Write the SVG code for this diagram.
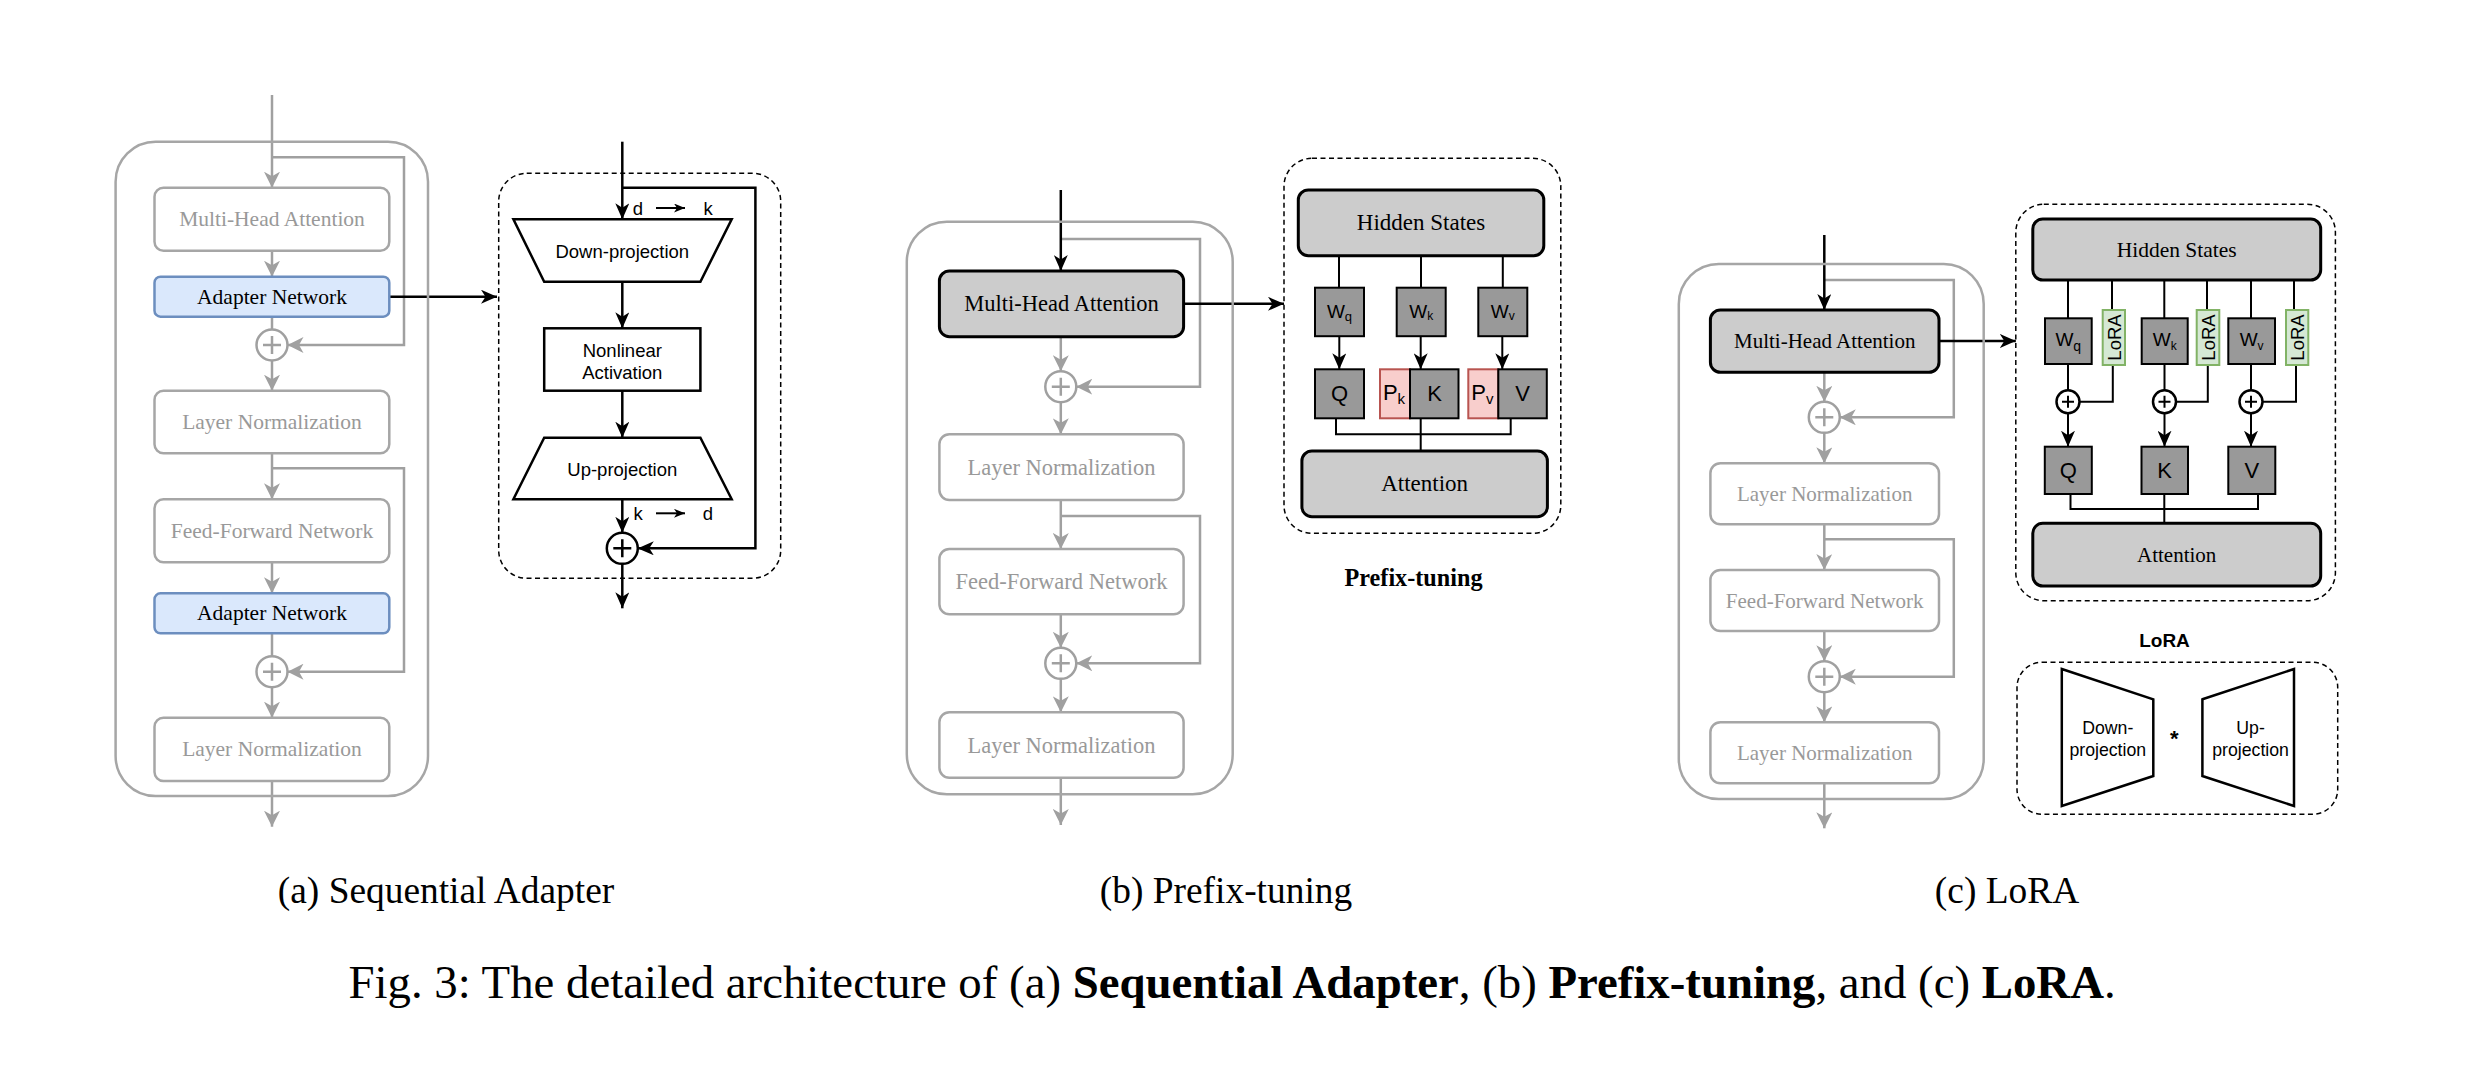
<svg xmlns="http://www.w3.org/2000/svg" width="2484" height="1070" viewBox="0 0 2484 1070">
<defs>
<marker id="mk" viewBox="0 0 16 14" refX="16" refY="7" markerWidth="16" markerHeight="14" markerUnits="userSpaceOnUse" orient="auto"><path d="M0,0 L16,7 L0,14 L4.5,7 z" fill="#000"/></marker>
<marker id="mg" viewBox="0 0 16 16" refX="16" refY="8" markerWidth="16" markerHeight="16" markerUnits="userSpaceOnUse" orient="auto"><path d="M0,0 L16,8 L0,16 L4.5,8 z" fill="#a0a0a0"/></marker>
<marker id="ms" viewBox="0 0 11 9" refX="11" refY="4.5" markerWidth="11" markerHeight="9" markerUnits="userSpaceOnUse" orient="auto"><path d="M0,0 L11,4.5 L0,9 L3,4.5 z" fill="#000"/></marker>
</defs>
<style>
.cont{fill:none;stroke:#a6a6a6;stroke-width:2.5}
.gl{fill:none;stroke:#a0a0a0;stroke-width:2.5}
.bl{fill:none;stroke:#000;stroke-width:2.5}
.tl{fill:none;stroke:#000;stroke-width:2}
.gbox{fill:#fff;stroke:#a6a6a6;stroke-width:2.5}
.abox{fill:#dae8fc;stroke:#6c8ebf;stroke-width:2.5}
.hbox{fill:#cccccc;stroke:#000;stroke-width:3}
.wbox{fill:#999999;stroke:#000;stroke-width:2}
.pbox{fill:#f8cecc;stroke:#b85450;stroke-width:2}
.lbox{fill:#d5e8d4;stroke:#82b366;stroke-width:2}
.dash{fill:none;stroke:#000;stroke-width:1.5;stroke-dasharray:5 3.5}
.shape{fill:#fff;stroke:#000;stroke-width:2.5}
.gc{fill:#fff;stroke:#a0a0a0;stroke-width:2.5}
.bc{fill:#fff;stroke:#000;stroke-width:2.5}
.st{font-family:"Liberation Serif","Times New Roman",serif;text-anchor:middle;dominant-baseline:central}
.gt{fill:#999}
.ss{font-family:"Liberation Sans",Arial,sans-serif;text-anchor:middle;dominant-baseline:central;fill:#000}
.cap{font-family:"Liberation Serif","Times New Roman",serif;fill:#000}
</style>
<rect width="2484" height="1070" fill="#fff"/>

<g id="connectors">
<!-- (a) -->
<path class="gl" d="M272,95 V187.7" marker-end="url(#mg)"/>
<path class="gl" d="M272,157.3 H404 V345 H287.5" marker-end="url(#mg)"/>
<path class="gl" d="M272,250.7 V276.7" marker-end="url(#mg)"/>
<path class="gl" d="M272,316.7 V329.5"/>
<path class="gl" d="M272,360.5 V390.7" marker-end="url(#mg)"/>
<path class="gl" d="M272,453.3 V499.3" marker-end="url(#mg)"/>
<path class="gl" d="M272,468.3 H404 V671.7 H287.5" marker-end="url(#mg)"/>
<path class="gl" d="M272,562.3 V593.3" marker-end="url(#mg)"/>
<path class="gl" d="M272,633.3 V656.2"/>
<path class="gl" d="M272,687.2 V717.7" marker-end="url(#mg)"/>
<path class="gl" d="M272,781 V826.7" marker-end="url(#mg)"/>
<path class="bl" d="M389.3,296.7 H497" marker-end="url(#mk)"/>
<path class="bl" d="M622.3,141.7 V219.3" marker-end="url(#mk)"/>
<path class="bl" d="M622.3,187.7 H755.4 V548.3 H637.8" marker-end="url(#mk)"/>
<path class="bl" d="M622.3,281.7 V328.3" marker-end="url(#mk)"/>
<path class="bl" d="M622.3,390.7 V437.7" marker-end="url(#mk)"/>
<path class="bl" d="M622.3,499.3 V532.8" marker-end="url(#mk)"/>
<path class="bl" d="M622.3,563.8 V608.3" marker-end="url(#mk)"/>
<path class="tl" d="M656,208 H685" marker-end="url(#ms)"/>
<path class="tl" d="M656,513.3 H685" marker-end="url(#ms)"/>
<!-- (b) -->
<path class="gl" d="M1060.8,239 H1200 V386.7 H1076.3" marker-end="url(#mg)"/>
<path class="gl" d="M1060.8,336.7 V371.2" marker-end="url(#mg)"/>
<path class="gl" d="M1060.8,402.2 V434.3" marker-end="url(#mg)"/>
<path class="gl" d="M1060.8,500 V549" marker-end="url(#mg)"/>
<path class="gl" d="M1060.8,516 H1200 V663.3 H1076.3" marker-end="url(#mg)"/>
<path class="gl" d="M1060.8,614.3 V647.8" marker-end="url(#mg)"/>
<path class="gl" d="M1060.8,678.8 V712.3" marker-end="url(#mg)"/>
<path class="gl" d="M1060.8,777.7 V825" marker-end="url(#mg)"/>
<path class="bl" d="M1060.8,190 V271" marker-end="url(#mk)"/>
<path class="bl" d="M1183.6,303.8 H1284" marker-end="url(#mk)"/>
<path class="tl" d="M1339,255.7 V287.7 M1421,255.7 V287.7 M1502.8,255.7 V287.7"/>
<path class="tl" d="M1339.3,336.2 V369.3" marker-end="url(#mk)"/>
<path class="tl" d="M1420.7,336.2 V369.3" marker-end="url(#mk)"/>
<path class="tl" d="M1502.3,336.2 V369.3" marker-end="url(#mk)"/>
<path class="tl" d="M1336,418.3 V434.3 H1510.7 V418.3 M1420.7,418.3 V451"/>
<!-- (c) -->
<path class="gl" d="M1824.3,280 H1953.8 V417.3 H1839.8" marker-end="url(#mg)"/>
<path class="gl" d="M1824.3,372.3 V401.8" marker-end="url(#mg)"/>
<path class="gl" d="M1824.3,432.8 V463.3" marker-end="url(#mg)"/>
<path class="gl" d="M1824.3,524.3 V570" marker-end="url(#mg)"/>
<path class="gl" d="M1824.3,539.3 H1953.8 V676.7 H1839.8" marker-end="url(#mg)"/>
<path class="gl" d="M1824.3,631 V661.2" marker-end="url(#mg)"/>
<path class="gl" d="M1824.3,692.2 V722.3" marker-end="url(#mg)"/>
<path class="gl" d="M1824.3,783.3 V828.3" marker-end="url(#mg)"/>
<path class="bl" d="M1824.3,235 V310" marker-end="url(#mk)"/>
<path class="bl" d="M1939,341 H2015.8" marker-end="url(#mk)"/>
<path class="tl" d="M2068,280 V318.3 M2112,280 V310 M2164.3,280 V318.3 M2207,280 V310 M2251,280 V318.3 M2294,280 V310"/>
<path class="tl" d="M2068,364 V390.2 M2164.5,364 V390.2 M2251,364 V390.2"/>
<path class="tl" d="M2112.8,365 V401.7 H2079.5 M2207.8,365 V401.7 H2176 M2296,365 V401.7 H2262.5"/>
<path class="tl" d="M2068,413.2 V446.7" marker-end="url(#mk)"/>
<path class="tl" d="M2164.5,413.2 V446.7" marker-end="url(#mk)"/>
<path class="tl" d="M2251,413.2 V446.7" marker-end="url(#mk)"/>
<path class="tl" d="M2070.5,494 V509 H2258 V494 M2164.3,494 V523.3"/>
</g>

<!-- ============ (a) Sequential Adapter ============ -->
<g id="a-container"><rect class="cont" x="115.6" y="141.7" width="312.4" height="654.3" rx="40"/></g>
<g id="a-mha"><rect class="gbox" x="154.5" y="187.7" width="234.8" height="63" rx="9"/><text class="st gt" x="272" y="219.2" font-size="21.5">Multi-Head Attention</text></g>
<g id="a-adapter1"><rect class="abox" x="154.5" y="276.7" width="234.8" height="40" rx="6"/><text class="st" x="272" y="296.7" font-size="21.5">Adapter Network</text></g>
<g id="a-add1"><circle class="gc" cx="272" cy="345" r="15.5"/><path class="gl" d="M263,345 H281 M272,336 V354"/></g>
<g id="a-ln1"><rect class="gbox" x="154.5" y="390.7" width="234.8" height="62.6" rx="9"/><text class="st gt" x="272" y="422" font-size="21.5">Layer Normalization</text></g>
<g id="a-ffn"><rect class="gbox" x="154.5" y="499.3" width="234.8" height="63" rx="9"/><text class="st gt" x="272" y="530.8" font-size="21.5">Feed-Forward Network</text></g>
<g id="a-adapter2"><rect class="abox" x="154.5" y="593.3" width="234.8" height="40" rx="6"/><text class="st" x="272" y="613.3" font-size="21.5">Adapter Network</text></g>
<g id="a-add2"><circle class="gc" cx="272" cy="671.7" r="15.5"/><path class="gl" d="M263,671.7 H281 M272,662.7 V680.7"/></g>
<g id="a-ln2"><rect class="gbox" x="154.5" y="717.7" width="234.8" height="63.3" rx="9"/><text class="st gt" x="272" y="749.3" font-size="21.5">Layer Normalization</text></g>

<g id="a-detail"><rect class="dash" x="498.7" y="173.3" width="282" height="405" rx="28"/></g>
<g id="a-down"><polygon class="shape" points="513.4,219.3 731.7,219.3 700.4,281.7 544.2,281.7"/><text class="ss" x="622.3" y="251" font-size="18.5">Down-projection</text></g>
<g id="a-dk"><text class="ss" x="638" y="208" font-size="18.5">d</text><text class="ss" x="708" y="208" font-size="18.5">k</text></g>
<g id="a-nonlinear"><rect class="shape" x="544.2" y="328.3" width="156.2" height="62.4"/><text class="ss" x="622.3" y="350" font-size="18.5">Nonlinear</text><text class="ss" x="622.3" y="372.7" font-size="18.5">Activation</text></g>
<g id="a-up"><polygon class="shape" points="544.2,437.7 700.4,437.7 731.7,499.3 513.4,499.3"/><text class="ss" x="622.3" y="469.5" font-size="18.5">Up-projection</text></g>
<g id="a-kd"><text class="ss" x="638" y="513.3" font-size="18.5">k</text><text class="ss" x="708" y="513.3" font-size="18.5">d</text></g>
<g id="a-add3"><circle class="bc" cx="622.3" cy="548.3" r="15.5"/><path class="bl" d="M613.3,548.3 H631.3 M622.3,539.3 V557.3"/></g>

<!-- ============ (b) Prefix-tuning ============ -->
<g id="b-container"><rect class="cont" x="906.8" y="221.7" width="325.9" height="572.6" rx="40"/></g>
<g id="b-mha"><rect class="hbox" x="939.4" y="271" width="244.2" height="65.7" rx="10"/><text class="st" x="1061.5" y="303.8" font-size="22.5">Multi-Head Attention</text></g>
<g id="b-add1"><circle class="gc" cx="1060.8" cy="386.7" r="15.5"/><path class="gl" d="M1051.8,386.7 H1069.8 M1060.8,377.7 V395.7"/></g>
<g id="b-ln1"><rect class="gbox" x="939.4" y="434.3" width="244.2" height="65.7" rx="10"/><text class="st gt" x="1061.5" y="467" font-size="22.5">Layer Normalization</text></g>
<g id="b-ffn"><rect class="gbox" x="939.4" y="549" width="244.2" height="65.3" rx="10"/><text class="st gt" x="1061.5" y="581.7" font-size="22.5">Feed-Forward Network</text></g>
<g id="b-add2"><circle class="gc" cx="1060.8" cy="663.3" r="15.5"/><path class="gl" d="M1051.8,663.3 H1069.8 M1060.8,654.3 V672.3"/></g>
<g id="b-ln2"><rect class="gbox" x="939.4" y="712.3" width="244.2" height="65.4" rx="10"/><text class="st gt" x="1061.5" y="745" font-size="22.5">Layer Normalization</text></g>

<g id="b-detail"><rect class="dash" x="1284" y="158.3" width="276.8" height="375" rx="28"/></g>
<g id="b-hidden"><rect class="hbox" x="1298.3" y="190" width="245.5" height="65.7" rx="10"/><text class="st" x="1421" y="222.8" font-size="23">Hidden States</text></g>
<g id="b-wq"><rect class="wbox" x="1315" y="287.7" width="49" height="48.5"/><text class="ss" x="1339.5" y="311" font-size="19">W<tspan font-size="13" dy="5">q</tspan></text></g>
<g id="b-wk"><rect class="wbox" x="1396.7" y="287.7" width="49" height="48.5"/><text class="ss" x="1421.2" y="311" font-size="19">W<tspan font-size="12" dy="5">k</tspan></text></g>
<g id="b-wv"><rect class="wbox" x="1478.3" y="287.7" width="49" height="48.5"/><text class="ss" x="1502.8" y="311" font-size="19">W<tspan font-size="12" dy="5">v</tspan></text></g>
<g id="b-q"><rect class="wbox" x="1315" y="369.3" width="49" height="49"/><text class="ss" x="1339.5" y="393.8" font-size="22">Q</text></g>
<g id="b-pk"><rect class="pbox" x="1380" y="369.3" width="30" height="49"/><text class="ss" x="1394" y="392" font-size="22">P<tspan font-size="15" dy="6">k</tspan></text></g>
<g id="b-k"><rect class="wbox" x="1410" y="369.3" width="48.5" height="49"/><text class="ss" x="1434.5" y="393.8" font-size="22">K</text></g>
<g id="b-pv"><rect class="pbox" x="1468.3" y="369.3" width="30" height="49"/><text class="ss" x="1482.3" y="392" font-size="22">P<tspan font-size="15" dy="6">v</tspan></text></g>
<g id="b-v"><rect class="wbox" x="1498.3" y="369.3" width="48.5" height="49"/><text class="ss" x="1522.5" y="393.8" font-size="22">V</text></g>
<g id="b-attn"><rect class="hbox" x="1301.9" y="451" width="245.5" height="65.7" rx="10"/><text class="st" x="1424.6" y="483.8" font-size="23">Attention</text></g>
<g id="b-title"><text class="st" x="1413.5" y="577" font-size="24.2" font-weight="bold">Prefix-tuning</text></g>

<!-- ============ (c) LoRA ============ -->
<g id="c-container"><rect class="cont" x="1678.8" y="264" width="304.9" height="535" rx="40"/></g>
<g id="c-mha"><rect class="hbox" x="1710.4" y="310" width="228.6" height="62.3" rx="10"/><text class="st" x="1824.7" y="341.2" font-size="21">Multi-Head Attention</text></g>
<g id="c-add1"><circle class="gc" cx="1824.3" cy="417.3" r="15.5"/><path class="gl" d="M1815.3,417.3 H1833.3 M1824.3,408.3 V426.3"/></g>
<g id="c-ln1"><rect class="gbox" x="1710.4" y="463.3" width="228.6" height="61" rx="10"/><text class="st gt" x="1824.7" y="493.8" font-size="21">Layer Normalization</text></g>
<g id="c-ffn"><rect class="gbox" x="1710.4" y="570" width="228.6" height="61" rx="10"/><text class="st gt" x="1824.7" y="600.5" font-size="21">Feed-Forward Network</text></g>
<g id="c-add2"><circle class="gc" cx="1824.3" cy="676.7" r="15.5"/><path class="gl" d="M1815.3,676.7 H1833.3 M1824.3,667.7 V685.7"/></g>
<g id="c-ln2"><rect class="gbox" x="1710.4" y="722.3" width="228.6" height="61" rx="10"/><text class="st gt" x="1824.7" y="752.8" font-size="21">Layer Normalization</text></g>

<g id="c-detail"><rect class="dash" x="2015.8" y="204.3" width="319.6" height="396.4" rx="28"/></g>
<g id="c-hidden"><rect class="hbox" x="2032.8" y="219" width="287.9" height="61" rx="10"/><text class="st" x="2176.7" y="249.5" font-size="21.5">Hidden States</text></g>
<g id="c-wq"><rect class="wbox" x="2045" y="318.3" width="46.7" height="45.7"/><text class="ss" x="2068.3" y="339.5" font-size="19">W<tspan font-size="14" dy="6">q</tspan></text></g>
<g id="c-loraq"><rect class="lbox" x="2102.7" y="310" width="22.3" height="55"/><text class="ss" transform="translate(2114.3,337.5) rotate(-90)" x="0" y="0" font-size="18.5">LoRA</text></g>
<g id="c-wk"><rect class="wbox" x="2141.7" y="318.3" width="46" height="45.7"/><text class="ss" x="2164.7" y="339.5" font-size="19">W<tspan font-size="12" dy="6">k</tspan></text></g>
<g id="c-lorak"><rect class="lbox" x="2196.7" y="310" width="22.6" height="55"/><text class="ss" transform="translate(2208.4,337.5) rotate(-90)" x="0" y="0" font-size="18.5">LoRA</text></g>
<g id="c-wv"><rect class="wbox" x="2228.3" y="318.3" width="46.7" height="45.7"/><text class="ss" x="2251.6" y="339.5" font-size="19">W<tspan font-size="12" dy="6">v</tspan></text></g>
<g id="c-lorav"><rect class="lbox" x="2286" y="310" width="22.3" height="55"/><text class="ss" transform="translate(2297.6,337.5) rotate(-90)" x="0" y="0" font-size="18.5">LoRA</text></g>
<g id="c-addq"><circle class="bc" cx="2068" cy="401.7" r="11.5" stroke-width="2"/><path class="tl" d="M2062,401.7 H2074 M2068,395.7 V407.7"/></g>
<g id="c-addk"><circle class="bc" cx="2164.5" cy="401.7" r="11.5" stroke-width="2"/><path class="tl" d="M2158.5,401.7 H2170.5 M2164.5,395.7 V407.7"/></g>
<g id="c-addv"><circle class="bc" cx="2251" cy="401.7" r="11.5" stroke-width="2"/><path class="tl" d="M2245,401.7 H2257 M2251,395.7 V407.7"/></g>
<g id="c-q"><rect class="wbox" x="2044.8" y="446.7" width="47" height="47.3"/><text class="ss" x="2068.3" y="470.3" font-size="22">Q</text></g>
<g id="c-k"><rect class="wbox" x="2141.5" y="446.7" width="46.5" height="47.3"/><text class="ss" x="2164.7" y="470.3" font-size="22">K</text></g>
<g id="c-v"><rect class="wbox" x="2228.3" y="446.7" width="47" height="47.3"/><text class="ss" x="2251.8" y="470.3" font-size="22">V</text></g>
<g id="c-attn"><rect class="hbox" x="2032.8" y="523.3" width="287.9" height="62.7" rx="10"/><text class="st" x="2176.7" y="554.7" font-size="21">Attention</text></g>
<g id="c-title"><text class="ss" x="2164.5" y="640" font-size="19" font-weight="bold">LoRA</text></g>
<g id="c-lowrank"><rect class="dash" x="2017" y="662.3" width="320.7" height="152" rx="25"/></g>
<g id="c-down"><polygon class="shape" points="2061.8,669 2153.3,699.3 2153.3,776 2061.8,806"/><text class="ss" x="2107.8" y="728.3" font-size="17.7">Down-</text><text class="ss" x="2107.8" y="750" font-size="17.7">projection</text></g>
<g id="c-star"><text class="ss" x="2174.3" y="738" font-size="22" font-weight="bold">*</text></g>
<g id="c-up"><polygon class="shape" points="2202.4,699.3 2294,669 2294,806 2202.4,776"/><text class="ss" x="2250.6" y="728.3" font-size="17.7">Up-</text><text class="ss" x="2250.6" y="750" font-size="17.7">projection</text></g>

<!-- ============ captions ============ -->
<g id="captions">
<text class="cap" x="446" y="903" font-size="37.4" text-anchor="middle">(a) Sequential Adapter</text>
<text class="cap" x="1226" y="903" font-size="37.4" text-anchor="middle">(b) Prefix-tuning</text>
<text class="cap" x="2007" y="903" font-size="37.4" text-anchor="middle">(c) LoRA</text>
<text class="cap" x="348.5" y="998" font-size="46.8">Fig. 3: The detailed architecture of (a) <tspan font-weight="bold">Sequential Adapter</tspan>, (b) <tspan font-weight="bold">Prefix-tuning</tspan>, and (c) <tspan font-weight="bold">LoRA</tspan>.</text>
</g>
</svg>
